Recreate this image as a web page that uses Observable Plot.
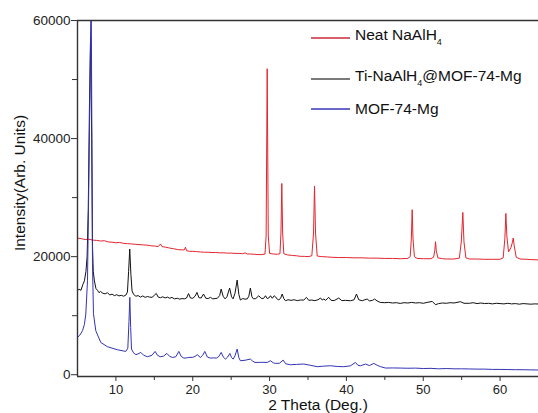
<!DOCTYPE html>
<html><head><meta charset="utf-8">
<script src="https://cdn.jsdelivr.net/npm/d3@7"></script>
<script src="https://cdn.jsdelivr.net/npm/@observablehq/plot@0.6"></script>
<style>
html,body{margin:0;padding:0;background:#fff;overflow:hidden;width:538px;height:413px;}
#wrap{position:relative;width:538px;height:413px;font-family:"Liberation Sans",Arial,sans-serif;color:#111;}
#chart{position:absolute;left:0;top:0;}
.lab{position:absolute;font-size:15.5px;white-space:nowrap;line-height:18px;}
.leg{position:absolute;left:311px;display:flex;align-items:center;font-size:15.5px;line-height:18px;white-space:nowrap;}
.leg .ln{display:inline-block;width:39px;height:1.3px;margin-right:5px;}
.leg sub{font-size:9px;position:relative;top:1px;vertical-align:sub;}
</style></head>
<body><div id="wrap"><div id="chart"></div></div>
<script>
// Neat NaAlH4 (red)
const neatTheta = [5.0,5.5,6.0,6.5,7.0,7.5,8.0,8.5,9.0,9.5,10.0,10.5,11.0,11.5,12.0,12.5,13.0,13.5,14.0,14.5,15.0,15.5,15.8,16.0,16.5,17.0,17.5,18.0,18.5,18.9,19.05,19.2,19.6,20.0,20.5,21.0,21.5,22.0,22.5,23.0,23.5,24.0,24.5,25.0,25.5,26.0,26.5,26.8,27.1,27.5,28.0,28.5,29.0,29.4,29.55,29.69,29.83,30.0,30.5,31.0,31.35,31.48,31.59,31.7,31.85,32.3,33.0,33.5,34.0,34.5,35.0,35.5,35.72,35.85,35.98,36.2,36.8,37.5,38.0,39.0,40.0,41.0,42.0,43.0,44.0,45.0,46.0,47.0,48.0,48.3,48.45,48.56,48.67,48.85,49.2,50.0,51.0,51.35,51.5,51.6,51.7,51.9,52.5,53.0,54.0,54.7,54.95,55.15,55.3,55.55,56.0,57.0,58.0,59.0,60.0,60.4,60.62,60.75,60.88,61.1,61.4,61.6,61.71,61.82,62.1,62.6,63.5,64.0,65.0];
const neatIntensity = [23150,23050,22900,22950,22800,22750,22650,22700,22500,22450,22350,22400,22250,22200,22150,22100,22050,22000,21950,21850,21800,21700,22150,21700,21600,21450,21350,21200,21150,21150,21600,21000,20900,20900,20850,20800,20750,20750,20700,20700,20650,20650,20600,20600,20550,20550,20500,20650,20450,20450,20400,20350,20350,20450,23500,51830,23500,20550,20450,20400,20500,24000,32400,24000,20500,20300,20200,20150,20050,20050,20000,20150,24000,31970,24000,20100,20000,19950,19900,19850,19850,19800,19800,19750,19750,19700,19700,19650,19700,20000,23000,27950,23000,20000,19700,19650,19650,19900,21000,22530,21000,19800,19650,19600,19600,19750,22500,27490,22500,19800,19600,19600,19550,19550,19550,19800,23000,27320,23500,20800,21500,22400,23160,22000,19900,19600,19550,19500,19450];

// Ti-NaAlH4@MOF-74-Mg (black)
const tiTheta = [5.0,5.2,5.45,5.7,5.9,6.1,6.25,6.4,6.55,6.7,6.85,6.95,7.05,7.2,7.4,7.6,7.8,8.0,8.3,8.6,8.9,9.2,9.5,9.8,10.1,10.4,10.7,11.0,11.3,11.5,11.65,11.8,11.95,12.1,12.3,12.6,12.9,13.2,13.5,13.8,14.1,14.4,14.7,15.0,15.25,15.5,15.8,16.1,16.4,16.7,17.0,17.3,17.6,18.0,18.3,18.6,18.9,19.2,19.45,19.7,20.0,20.3,20.55,20.8,21.1,21.4,21.7,22.0,22.3,22.6,22.9,23.2,23.5,23.7,23.95,24.2,24.45,24.8,25.05,25.25,25.5,25.78,26.0,26.2,26.5,26.8,27.1,27.3,27.5,27.7,27.9,28.2,28.6,28.9,29.2,29.47,29.7,29.9,30.12,30.35,30.6,30.77,31.0,31.2,31.45,31.64,31.85,32.07,32.4,32.8,33.2,33.6,34.0,34.45,34.8,35.1,35.5,35.9,36.3,36.63,36.85,37.06,37.3,37.7,38.0,38.4,39.0,39.4,39.9,40.53,41.0,41.31,41.6,42.06,42.4,42.7,43.0,43.4,43.66,44.0,44.4,45.0,45.5,46.0,46.5,47.0,47.5,48.0,48.5,49.0,49.5,50.0,50.5,51.17,51.6,52.0,52.5,53.0,53.5,54.0,54.85,55.3,56.0,56.5,57.0,57.5,58.0,58.5,59.0,59.5,60.0,60.5,61.0,61.5,62.0,62.5,63.0,63.5,64.0,64.5,65.0];
const tiIntensity = [14230,14500,14300,15300,15900,17500,20000,28000,45000,57000,40000,22000,17500,15900,14600,14300,13900,14100,13800,13700,13900,13500,13650,13400,13550,13350,13450,13300,13500,14000,17500,21290,17000,14200,13600,13300,13400,13150,13350,13100,13250,13150,13100,13450,13770,13150,13050,13200,13000,13150,12950,13100,12850,12950,12800,12900,12850,13000,13750,13000,12950,13300,13940,13050,13000,13670,12950,12900,13100,12850,12900,12950,13400,14510,13300,12850,13200,14680,13200,12850,13800,16040,13600,12650,12900,12800,12850,13300,14680,13200,12850,12900,13380,12950,12900,13380,12900,13000,13380,12950,13380,13200,12800,12650,13000,13670,12900,12530,12700,12600,12700,12550,12650,12650,13100,12600,12650,12550,12700,12990,12650,12820,12600,13100,12600,12550,12990,12550,12600,12530,12700,13670,12700,12530,12700,12820,12500,12600,12820,12500,12250,12200,12250,12150,12200,12080,12200,12150,12250,12150,12200,12100,12250,12420,11860,12050,12150,12100,12200,12150,12370,12100,12100,12200,12050,12150,12050,12100,12000,12100,12050,12000,12100,12000,12050,11950,12050,12000,11950,12000,11980];

// MOF-74-Mg (blue)
const mofTheta = [5.0,5.3,5.65,5.9,6.08,6.3,6.5,6.78,6.95,7.08,7.38,8.03,8.9,10.2,11.29,11.55,11.7,11.81,11.92,12.03,12.3,12.6,13.0,13.24,13.6,14.1,14.7,15.1,15.4,15.77,16.2,16.63,17.0,17.37,17.8,18.19,18.5,18.84,19.2,19.49,20.0,20.3,20.58,21.0,21.3,21.57,21.9,22.3,22.7,23.09,23.4,23.7,24.0,24.26,24.55,24.83,25.05,25.26,25.5,25.78,26.0,26.2,26.8,27.5,27.8,28.1,28.9,29.69,30.12,30.5,30.77,31.3,31.77,32.1,32.72,33.5,34.45,35.3,36.2,37.0,37.93,38.8,39.66,40.5,41.18,41.5,41.84,42.49,43.0,43.57,44.0,44.44,45.1,46.0,47.0,48.0,49.0,50.0,51.0,52.0,53.0,54.0,55.0,56.0,57.0,58.0,59.0,60.0,61.0,62.0,63.0,64.0,65.0];
const mofIntensity = [6320,6700,7450,8500,10280,15900,35000,66000,18800,10330,7450,5470,4740,4230,3950,4500,9000,13100,8000,4350,3700,3390,3600,3780,3300,3050,3300,3950,3300,3050,3150,3610,3100,2930,3050,3950,3100,2820,2850,2930,2950,3100,3390,2930,3300,3950,3000,2820,2850,2820,3100,3780,2950,2650,3000,3610,2900,2650,3200,4350,2900,2370,2450,2650,2300,2080,2100,2080,2370,2000,1920,1950,2480,1850,1690,1750,1810,1600,1360,1450,1520,1400,1360,1500,2080,1600,1520,1810,1550,1920,1600,1360,1130,1150,1130,1100,1120,1050,1080,1000,1050,1000,1000,980,950,950,900,900,880,850,850,820,800];

const xMajorTicks = [10,20,30,40,50,60];
const xMinorTicks = [15,25,35,45,55,65];
const yMajorTicks = [0,20000,40000,60000];
const yMinorTicks = [10000,30000,50000];
const seriesNames = ["Neat NaAlH4","Ti-NaAlH4@MOF-74-Mg","MOF-74-Mg"];
const seriesColors = ["#e2252e","#111111","#3333b4"];
const legendColors = ["#d8606c","#7a7a7a","#6a68c8"];
const xDomain = [5,65];
const yDomain = [-300,60000];

const toRows = (name, xs, ys) => xs.map((t,i) => ({series:name, theta:t, intensity:ys[i]}));
const rows = [
  ...toRows(seriesNames[0], neatTheta, neatIntensity),
  ...toRows(seriesNames[1], tiTheta, tiIntensity),
  ...toRows(seriesNames[2], mofTheta, mofIntensity)
];

const axisColor = "#333";
const chart = Plot.plot({
  width: 538, height: 413,
  marginLeft: 77, marginRight: 0, marginTop: 20, marginBottom: 37,
  x: {domain: xDomain},
  y: {domain: yDomain},
  color: {domain: seriesNames, range: seriesColors},
  style: {fontFamily: "'Liberation Sans', Arial, sans-serif", color: "#222", background: "white", overflow: "visible"},
  marks: [
    Plot.lineY(rows, {x: "theta", y: "intensity", z: "series", stroke: "series", strokeWidth: 1, clip: true}),
    Plot.ruleX([xDomain[0]], {stroke: axisColor, strokeWidth: 1.4}),
    Plot.ruleY([yDomain[0], yDomain[1]], {stroke: axisColor, strokeWidth: 1.4}),
    Plot.axisX(xMajorTicks, {tickSize: 5, tickPadding: 3, fontSize: 13, label: null, stroke: axisColor, tickFormat: d => String(d)}),
    Plot.axisX(xMinorTicks, {tickSize: 4, label: null, stroke: axisColor, tickFormat: () => ""}),
    Plot.axisY(yMajorTicks, {tickSize: 6, tickPadding: 1, fontSize: 13.5, label: null, stroke: axisColor, tickFormat: d3.format("d")}),
    Plot.axisY(yMinorTicks, {tickSize: 5, label: null, stroke: axisColor, tickFormat: () => ""})
  ]
});
const wrap = document.getElementById("wrap");
document.getElementById("chart").appendChild(chart);

// axis titles
const xl = document.createElement("div");
xl.className = "lab"; xl.textContent = "2 Theta (Deg.)";
xl.style.left = "318px"; xl.style.top = "396px"; xl.style.transform = "translateX(-50%)";
wrap.appendChild(xl);
const yl = document.createElement("div");
yl.className = "lab"; yl.textContent = "Intensity(Arb. Units)";
yl.style.left = "20px"; yl.style.top = "183px"; yl.style.transform = "translate(-50%,-50%) rotate(-90deg)";
wrap.appendChild(yl);

// legend
const legendTops = [26, 67, 100];
const legendHtml = ["Neat NaAlH<sub>4</sub>", "Ti-NaAlH<sub>4</sub>@MOF-74-Mg", "MOF-74-Mg"];
seriesNames.forEach((n, i) => {
  const d = document.createElement("div");
  d.className = "leg"; d.style.top = legendTops[i] + "px";
  d.innerHTML = `<span class="ln" style="background:${legendColors[i]}"></span><span>${legendHtml[i]}</span>`;
  wrap.appendChild(d);
});
</script></body></html>
